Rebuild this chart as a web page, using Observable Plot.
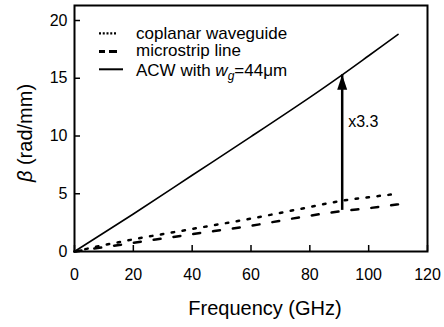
<!DOCTYPE html>
<html>
<head>
<meta charset="utf-8">
<script src="https://cdn.jsdelivr.net/npm/d3@7"></script>
<script src="https://cdn.jsdelivr.net/npm/@observablehq/plot@0.6"></script>
<style>
  html, body { margin: 0; padding: 0; background: #fff; }
  #chart { position: relative; width: 444px; height: 327px; }
  svg { font-family: "Liberation Sans", Arial, sans-serif; }
</style>
</head>
<body>
<div id="chart"></div>
<script>
// ---- data ----
const freqACW = [0, 20, 40, 60, 80, 91, 100, 110];
const betaACW = [0, 3.25, 6.6, 9.95, 13.35, 15.3, 16.95, 18.8];
const freqCPW = [0, 10, 20, 40, 60, 80, 91, 100, 110];
const betaCPW = [0, 0.55, 1.05, 1.95, 2.85, 3.85, 4.4, 4.7, 5.0];
const freqMS = [0, 20, 40, 60, 80, 91, 100, 110];
const betaMS = [0, 0.75, 1.5, 2.23, 3.1, 3.5, 3.75, 4.08];
const seriesNames = ["coplanar waveguide", "microstrip line", "ACW with "];
const xTicks = [0, 20, 40, 60, 80, 100, 120];
const yTicks = [0, 5, 10, 15, 20];
const arrowX = [91];
const arrowFrom = [4.6];
const arrowTo = [15.3];
const ratioLabel = ["x3.3"];
const ratioLabelY = [11.2];

const FONT = '"Liberation Sans", Arial, sans-serif';
const toRows = (xs, ys) => xs.map((x, i) => ({x, y: ys[i]}));
const acw = toRows(freqACW, betaACW);
const cpw = toRows(freqCPW, betaCPW);
const ms = toRows(freqMS, betaMS);
const arrowData = arrowX.map((x, i) => ({x, y1: arrowFrom[i], y2: arrowTo[i], label: ratioLabel[i], ly: ratioLabelY[i]}));

const triangleUp = {
  draw(ctx) {
    ctx.moveTo(0, 0);
    ctx.lineTo(-5, 15);
    ctx.lineTo(5, 15);
    ctx.closePath();
  }
};

const plot = Plot.plot({
  width: 444,
  height: 327,
  marginLeft: 74,
  marginRight: 17,
  marginTop: 5,
  marginBottom: 76,
  style: {fontFamily: FONT, fontSize: "16px", color: "#000", background: "#fff"},
  x: {domain: [0, 120], ticks: xTicks},
  y: {domain: [0, 21.3], ticks: yTicks},
  marks: [
    Plot.axisX({ticks: xTicks, tickSize: 6, dy: -6, strokeWidth: 1.5, tickFormat: () => "", label: null}),
    Plot.axisX({ticks: xTicks, tickSize: 0, tickPadding: 17, fontSize: 16, label: null}),
    Plot.axisY({ticks: yTicks, tickSize: 6, dx: 6, strokeWidth: 1.5, tickFormat: () => "", label: null}),
    Plot.axisY({ticks: yTicks, tickSize: 0, tickPadding: 7, fontSize: 16, label: null}),
    Plot.line(cpw, {x: "x", y: "y", stroke: "#000", strokeWidth: 2.5, strokeDasharray: "2.5,8.5", curve: "monotone-x"}),
    Plot.line(ms, {x: "x", y: "y", stroke: "#000", strokeWidth: 2.5, strokeDasharray: "7,13", curve: "monotone-x"}),
    Plot.line(acw, {x: "x", y: "y", stroke: "#000", strokeWidth: 1.6, curve: "catmull-rom"}),
    Plot.ruleX(arrowData, {x: "x", y1: "y1", y2: "y2", stroke: "#000", strokeWidth: 2.5, insetTop: 12}),
    Plot.dot(arrowData, {x: "x", y: "y2", symbol: triangleUp, fill: "#000", stroke: null, r: 5}),
    Plot.text(arrowData, {x: "x", y: "ly", text: "label", dx: 6, textAnchor: "start", fontSize: 16, fill: "#000"}),
    Plot.frame({stroke: "#000", strokeWidth: 2})
  ]
});

document.getElementById("chart").appendChild(plot);

// overlays: axis titles and legend
const svg = d3.select(plot);
const ov = svg.append("g").attr("font-family", FONT).attr("fill", "#000").attr("text-anchor", "start");

// x title
ov.append("text")
  .attr("x", 265).attr("y", 315)
  .attr("text-anchor", "middle")
  .attr("font-size", 20)
  .text("Frequency (GHz)");

// y title
const yt = ov.append("text")
  .attr("transform", "translate(32,133) rotate(-90)")
  .attr("text-anchor", "middle")
  .attr("font-size", 20);
yt.append("tspan").attr("font-style", "italic").text("β");
yt.append("tspan").text(" (rad/mm)");

// legend
const legend = [
  {name: seriesNames[0], dash: "2,1.75", w: 2.2, x2: 116.5, ly: 33.3, ty: 38.5},
  {name: seriesNames[1], dash: "6,4,8,10", w: 3, x2: 117, ly: 51.5, ty: 55.5},
  {name: seriesNames[2], dash: null, w: 2, x2: 123, ly: 69.3, ty: 75.5}
];
legend.forEach((d, i) => {
  const ln = ov.append("line")
    .attr("x1", 99).attr("x2", d.x2)
    .attr("y1", d.ly).attr("y2", d.ly)
    .attr("stroke", "#000").attr("stroke-width", d.w);
  if (d.dash) ln.attr("stroke-dasharray", d.dash);
  const t = ov.append("text")
    .attr("x", 136).attr("y", d.ty)
    .attr("text-anchor", "start")
    .attr("font-size", 17)
    .text(d.name);
  if (i === 2) {
    t.append("tspan").attr("font-style", "italic").text("w");
    t.append("tspan").attr("font-style", "italic").attr("font-size", 12).attr("dy", 4).text("g");
    t.append("tspan").attr("dy", -4).text("=44μm");
  }
});
</script>
</body>
</html>
